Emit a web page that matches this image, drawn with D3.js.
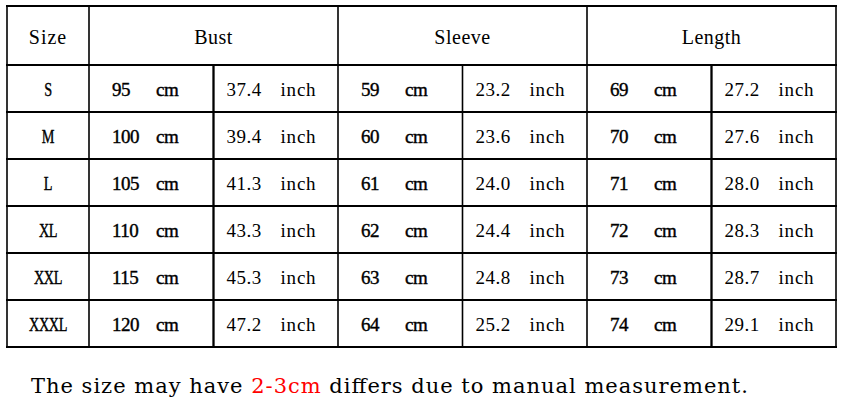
<!DOCTYPE html>
<html>
<head>
<meta charset="utf-8">
<script src="https://cdn.jsdelivr.net/npm/d3@7"></script>
<style>
  body { margin: 0; background: #fff; }
  text { font-family: "Liberation Serif", "DejaVu Serif", serif; fill: #000; }
</style>
</head>
<body>
<div id="chart"></div>
<script>
// Size chart data
var sizes = ["S", "M", "L", "XL", "XXL", "XXXL"];
var groups = ["Bust", "Sleeve", "Length"];
var bustCm = [95, 100, 105, 110, 115, 120];
var bustIn = ["37.4", "39.4", "41.3", "43.3", "45.3", "47.2"];
var sleeveCm = [59, 60, 61, 62, 63, 64];
var sleeveIn = ["23.2", "23.6", "24.0", "24.4", "24.8", "25.2"];
var lengthCm = [69, 70, 71, 72, 73, 74];
var lengthIn = ["27.2", "27.6", "28.0", "28.3", "28.7", "29.1"];
var noteParts = [
    { text: "The size may have ", red: false },
    { text: "2-3cm", red: true },
    { text: " differs due to manual measurement.", red: false }
];

var width = 843, height = 405;
var margin = { top: 6, left: 7, right: 7 };
var headerH = 59, sizeColW = 82;

var svg = d3.select("#chart").append("svg")
    .attr("width", width)
    .attr("height", height);

// Scales: rows and the six value columns
var tableTop = margin.top, bodyTop = tableTop + headerH, bodyBottom = 347;
var tableLeft = margin.left, tableRight = width - margin.right;

var y = d3.scaleBand()
    .domain(sizes)
    .range([bodyTop, bodyBottom]);

var colKeys = d3.range(0, 6);
var x = d3.scaleBand()
    .domain(colKeys)
    .range([tableLeft + sizeColW, tableRight]);

var columns = [bustCm, bustIn, sleeveCm, sleeveIn, lengthCm, lengthIn];

// Grid lines
var grid = svg.append("g").attr("stroke", "#000").attr("fill", "none");

// horizontal lines
var hLines = [tableTop].concat(sizes.map(function(s){ return y(s); }), [bodyBottom]);
grid.selectAll(".h-line")
    .data(hLines)
    .enter().append("line")
    .attr("class", "h-line")
    .attr("x1", tableLeft - 1)
    .attr("x2", tableRight + 1)
    .attr("y1", function(d){ return d; })
    .attr("y2", function(d){ return d; })
    .attr("stroke-width", 2);

// vertical lines: outer, group separators, and inner cm/inch splits
var vOuter = [tableLeft, tableLeft + sizeColW, x(2), x(4), tableRight];
grid.selectAll(".v-outer")
    .data(vOuter)
    .enter().append("line")
    .attr("class", "v-outer")
    .attr("x1", function(d){ return d; })
    .attr("x2", function(d){ return d; })
    .attr("y1", tableTop)
    .attr("y2", bodyBottom)
    .attr("stroke-width", 1.6);

var vInner = [x(1), x(3), x(5)];
grid.selectAll(".v-inner")
    .data(vInner)
    .enter().append("line")
    .attr("class", "v-inner")
    .attr("x1", function(d){ return d; })
    .attr("x2", function(d){ return d; })
    .attr("y1", bodyTop)
    .attr("y2", bodyBottom)
    .attr("stroke-width", function(d, i){ return i === 1 ? 1.6 : 2.3; });

// Header texts
var headerY = tableTop + headerH / 2 + 8;
svg.append("text")
    .attr("x", tableLeft + sizeColW / 2)
    .attr("y", headerY)
    .attr("text-anchor", "middle")
    .style("font-size", "20px")
    .style("letter-spacing", "1px")
    .text("Size");

svg.selectAll(".group-label")
    .data(groups)
    .enter().append("text")
    .attr("class", "group-label")
    .attr("x", function(d, i){ return x(i * 2) + x.bandwidth(); })
    .attr("y", headerY)
    .attr("text-anchor", "middle")
    .style("font-size", "20px")
    .style("letter-spacing", "0.5px")
    .text(function(d){ return d; });

// Size labels (condensed, like the original bitmap font)
svg.selectAll(".size-label")
    .data(sizes)
    .enter().append("text")
    .attr("class", "size-label")
    .attr("transform", function(d){
        return "translate(" + (tableLeft + sizeColW / 2) + "," + (y(d) + y.bandwidth() / 2 + 7) + ") scale(0.75,1)";
    })
    .attr("text-anchor", "middle")
    .style("font-size", "19px")
    .style("letter-spacing", "-0.5px")
    .attr("stroke", "#000")
    .attr("stroke-width", 0.4)
    .text(function(d){ return d; });

// Value cells
columns.forEach(function(col, ci){
    var isCm = ci % 2 === 0;
    var cells = svg.selectAll(".cell-" + ci)
        .data(col)
        .enter().append("g")
        .attr("class", "cell-" + ci)
        .attr("transform", function(d, i){
            return "translate(" + x(ci) + "," + (y(sizes[i]) + y.bandwidth() / 2 + 7) + ")";
        });

    cells.append("text")
        .attr("x", isCm ? 23 : 13)
        .style("font-size", "19px")
        .style("letter-spacing", isCm ? "-0.5px" : "0.5px")
        .attr("stroke", isCm ? "#000" : "none")
        .attr("stroke-width", 0.4)
        .text(function(d){ return d; });

    cells.append("text")
        .attr("x", 67)
        .style("font-size", "19px")
        .style("letter-spacing", isCm ? "-0.5px" : "0.8px")
        .attr("stroke", isCm ? "#000" : "none")
        .attr("stroke-width", 0.4)
        .text(isCm ? "cm" : "inch");
});

// Note under the table
svg.append("text")
    .attr("x", 31)
    .attr("y", 393)
    .attr("textLength", 717)
    .attr("lengthAdjust", "spacing")
    .style("font-family", "'DejaVu Serif', serif")
    .style("font-size", "21px")
    .selectAll("tspan")
    .data(noteParts)
    .enter().append("tspan")
    .attr("fill", function(d){ return d.red ? "#ff0000" : "#000"; })
    .style("white-space", "pre")
    .text(function(d){ return d.text; });
</script>
</body>
</html>
